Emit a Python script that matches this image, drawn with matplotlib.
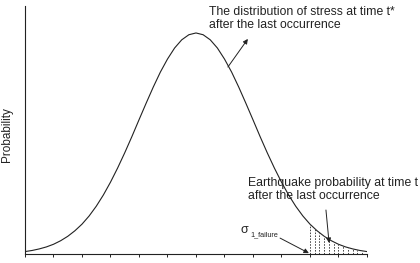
"""Stress distribution sketch with failure tail."""

import matplotlib

matplotlib.use("Agg")
import matplotlib.pyplot as plt
import numpy as np

# stress axis in tick units, curve height relative to its peak
stress = [
    0.0, 0.25, 0.5, 0.75, 1.0, 1.25, 1.5, 1.75, 2.0, 2.25, 2.5, 2.75,
    3.0, 3.25, 3.5, 3.75, 4.0, 4.25, 4.5, 4.75, 5.0, 5.25, 5.5, 5.75,
    6.0, 6.25, 6.5, 6.75, 7.0, 7.25, 7.5, 7.75, 8.0, 8.25, 8.5, 8.75,
    9.0, 9.25, 9.5, 9.75, 10.0, 10.25, 10.5, 10.75, 11.0, 11.25, 11.5, 11.75, 12.0,
]
probability = [
    0.011, 0.016, 0.023, 0.032, 0.044, 0.060, 0.080, 0.105, 0.135, 0.172, 0.216, 0.267,
    0.325, 0.389, 0.458, 0.531, 0.607, 0.682, 0.755, 0.823, 0.882, 0.932, 0.969, 0.992,
    1.000, 0.992, 0.969, 0.932, 0.882, 0.823, 0.755, 0.682, 0.607, 0.531, 0.458, 0.389,
    0.325, 0.267, 0.216, 0.172, 0.135, 0.105, 0.080, 0.060, 0.044, 0.032, 0.023, 0.016, 0.011,
]
x_ticks = list(range(13))
failure_stress = 10.0
tail_lines = 13

label_top = "The distribution of stress at time t*\nafter the last occurrence"
label_tail = "Earthquake probability at time t\nafter the last occurrence"

plt.rcParams["font.family"] = ["Liberation Sans", "DejaVu Sans"]

fig = plt.figure(figsize=(4.2, 2.63), dpi=100)
ax = fig.add_axes([0.0595, 0.0342, 0.8143, 0.943])

ink = "#222222"
ax.plot(stress, probability, color=ink, linewidth=0.8)

# dotted hatching under the tail beyond the failure stress
hatch_x = np.linspace(failure_stress, stress[-1], tail_lines)
hatch_top = np.interp(hatch_x, stress, probability)
ax.vlines(hatch_x, 0, hatch_top, colors="#444444", linewidth=0.7, linestyles=(0, (1.6, 1.4)))

ax.set_xlim(0, 12)
ax.set_ylim(0, 1.122)
ax.set_xticks(x_ticks)
ax.set_xticklabels([])
ax.set_yticks([])
ax.tick_params(axis="x", direction="out", length=2.4, width=0.7, color=ink)
for side in ("top", "right"):
    ax.spines[side].set_visible(False)
for side in ("left", "bottom"):
    ax.spines[side].set_color(ink)
    ax.spines[side].set_linewidth(0.8)

ax.set_ylabel("Probability", fontsize=8.5, color=ink)
ax.yaxis.set_label_coords(-0.036, 0.48)

arrow = dict(arrowstyle="-|>", color=ink, lw=0.7, mutation_scale=7, shrinkA=0, shrinkB=0)
ax.annotate("", xy=(7.82, 0.973), xytext=(7.12, 0.846), arrowprops=arrow)
ax.annotate("", xy=(10.67, 0.05), xytext=(10.56, 0.199), arrowprops=arrow)
ax.annotate("", xy=(9.96, 0.004), xytext=(8.95, 0.072), arrowprops=arrow)

ax.text(6.46, 1.124, label_top, fontsize=8.8, color=ink, va="top", ha="left", linespacing=1.12)
ax.text(7.81, 0.348, label_tail, fontsize=8.8, color=ink, va="top", ha="left", linespacing=1.1)
ax.text(7.55, 0.11, "σ", fontsize=9, color=ink, va="center", ha="left")
ax.text(7.90, 0.085, "1_failure", fontsize=5.2, color=ink, va="center", ha="left")

plt.savefig("out.png", dpi=100)
plt.close()
